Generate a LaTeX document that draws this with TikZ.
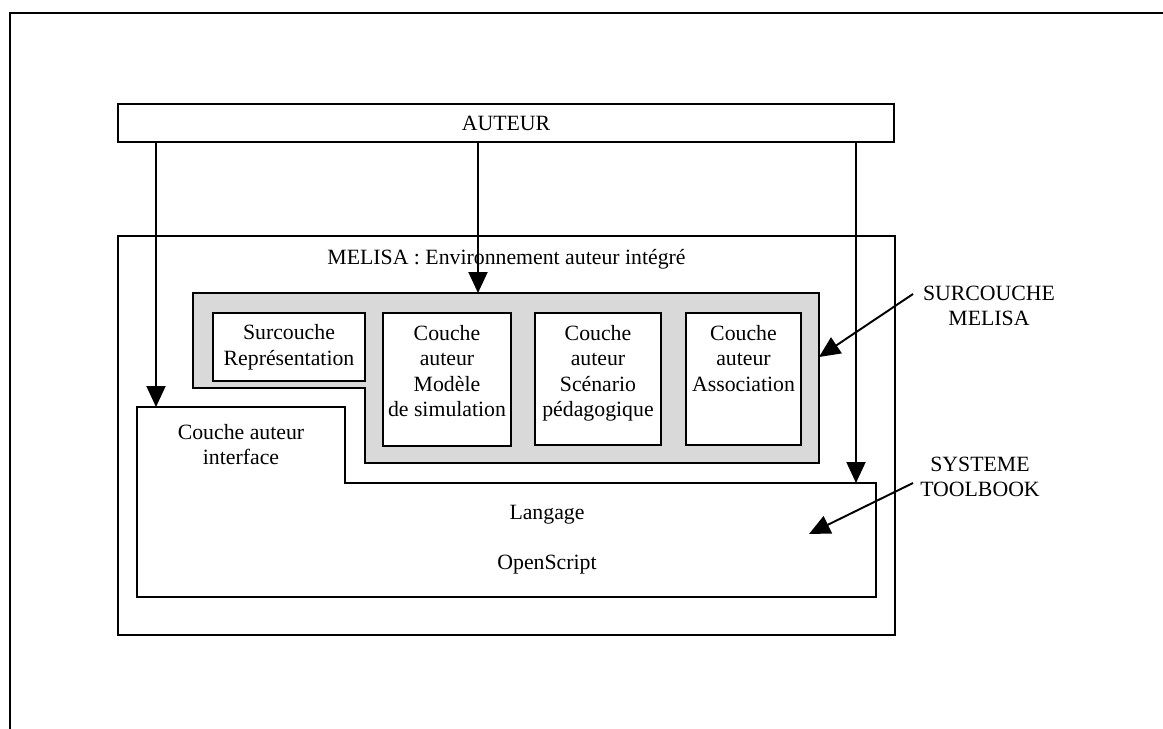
\documentclass[tikz,border=0pt]{standalone}
\usepackage{fontspec}
\setmainfont{Liberation Serif}
\usetikzlibrary{positioning,arrows.meta}

\begin{document}
\begin{tikzpicture}[x=0.02cm, y=-0.02cm,
    box/.style={draw, line width=1.1pt, inner sep=0pt, fill=white,
                align=center, font=\fontsize{12.4}{14.6}\selectfont},
    txt/.style={inner sep=0pt, align=center, font=\fontsize{12.4}{14.6}\selectfont},
    arrow/.style={-{Triangle[length=0.42cm, width=0.38cm]}, line width=1.1pt},
  ]
    \useasboundingbox (0,0) rectangle (1163,729);
    % cadre de la page
    \draw[line width=1.5pt] (10,729) -- (10,13) -- (1163,13);

    \node[box, minimum width=15.52cm, minimum height=0.76cm] (auteur) at (506,123) {AUTEUR};

    \node[box, minimum width=15.54cm, minimum height=7.98cm] (melisa) at (506.5,435.5) {};
    \node[txt, below=0.27cm of melisa.north] (titre) {MELISA : Environnement auteur intégré};

    % surcouche grise
    \draw[line width=1.1pt, fill=black!15]
      (193,293) -- (819,293) -- (819,463) -- (365,463) -- (365,388) -- (193,388) -- cycle;
    \coordinate (pGris) at (478,293);

    \node[box, minimum width=3.04cm, minimum height=1.36cm] (repr) at (289,347) {Surcouche\\Représentation};
    \node[box, minimum width=2.56cm, minimum height=2.66cm] (modele) at (447,379.5) {};
    \node[box, minimum width=2.52cm, minimum height=2.64cm] (scenario) at (598,379) {};
    \node[box, minimum width=2.30cm, minimum height=2.64cm] (assoc) at (743.5,379) {};
    \node[txt, below=0.25cm of modele.north] (modeleTxt) {Couche\\auteur\\Modèle\\de simulation};
    \node[txt, below=0.25cm of scenario.north] (scenarioTxt) {Couche\\auteur\\Scénario\\pédagogique};
    \node[txt, below=0.25cm of assoc.north] (assocTxt) {Couche\\auteur\\Association};

    % interface + langage
    \draw[line width=1.1pt, fill=white]
      (137,407) -- (345,407) -- (345,483) -- (876,483) -- (876,597) -- (137,597) -- cycle;
    \coordinate (pIface) at (156,407);
    \coordinate (pLang) at (856,483);
    \node[txt] (iface) at (241,444.5) {Couche auteur\\interface};
    \node[txt] (langage) at (547,515) {Langage};
    \node[txt] (openscript) at (547,565) {OpenScript};

    \node[txt] (surLbl) at (989,306) {SURCOUCHE\\MELISA};
    \node[txt] (sysLbl) at (980,477) {SYSTEME\\TOOLBOOK};
    \coordinate (surDep) at (913,294);
    \coordinate (surArr) at (819,357);
    \coordinate (sysDep) at (913,483);
    \coordinate (sysArr) at (809,534);

    \draw[arrow] (auteur.south -| pIface) -- (pIface);
    \draw[arrow] (auteur.south -| pGris) -- (pGris);
    \draw[arrow] (auteur.south -| pLang) -- (pLang);
    \draw[arrow] (surDep) -- (surArr);
    \draw[arrow] (sysDep) -- (sysArr);
  \end{tikzpicture}
\end{document}
